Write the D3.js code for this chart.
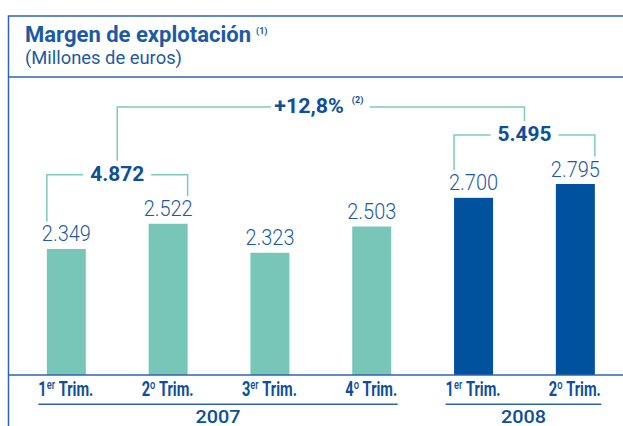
<!DOCTYPE html>
<html>
<head>
<meta charset="utf-8">
<script src="https://cdn.jsdelivr.net/npm/d3@7"></script>
<style>
  body { margin: 0; background: #fff; }
  svg { display: block; font-family: Roboto, "Open Sans", sans-serif; }
</style>
</head>
<body>
<div id="chart"></div>
<script>
// values
var quarterNum = ["1", "2", "3", "4", "1", "2"];
var quarterSup = ["er", "o", "er", "o", "er", "o"];
var years = ["2007", "2007", "2007", "2007", "2008", "2008"];
var values = [2349, 2522, 2323, 2503, 2700, 2795];
var yearLabels = ["2007", "2008"];
var sumLabels = ["4.872", "5.495"];
var sumGroups = [[0, 1], [4, 5]];
var growthLabel = "+12,8%";

var width = 623, height = 426;
var baseY = 375;

var teal = "#77c6b8", navy = "#00529f", lineTeal = "#7dcbbb";
var textBlue = "#1c5aa3", boldBlue = "#0d4f99", frameBlue = "#2e65ad";

var es = d3.formatLocale({decimal: ",", thousands: ".", grouping: [3], currency: ["", "€"]});
var fmt = es.format(",d");

var svg = d3.select("#chart").append("svg")
    .attr("width", width)
    .attr("height", height);

// frame
svg.append("path")
    .attr("d", `M${width},16 H8.5 V${height}`)
    .attr("fill", "none")
    .attr("stroke", frameBlue)
    .attr("stroke-width", 1.5);
svg.append("line")
    .attr("x1", 8.5).attr("x2", width)
    .attr("y1", 77).attr("y2", 77)
    .attr("stroke", frameBlue)
    .attr("stroke-width", 1.5);

// titles
svg.append("text")
    .attr("x", 25).attr("y", 41.5)
    .attr("fill", textBlue)
    .attr("font-size", 22).attr("font-weight", 700)
    .attr("textLength", 226).attr("lengthAdjust", "spacingAndGlyphs")
    .text("Margen de explotación");
svg.append("text")
    .attr("x", 256).attr("y", 34)
    .attr("fill", textBlue)
    .attr("font-size", 9).attr("font-weight", 700)
    .text("(1)");
svg.append("text")
    .attr("x", 25).attr("y", 63.5)
    .attr("fill", textBlue)
    .attr("font-size", 19)
    .attr("textLength", 157).attr("lengthAdjust", "spacingAndGlyphs")
    .text("(Millones de euros)");

// scales
var idx = d3.range(values.length);
var xScale = d3.scaleBand()
    .domain(idx)
    .range([16.3, 625.4])
    .paddingInner(0.617)
    .paddingOuter(0.3);

var yScale = d3.scaleLinear()
    .domain([1484, 2795])
    .range([baseY, 184]);

var cx = i => xScale(i) + xScale.bandwidth() / 2;

// bars
svg.selectAll(".bar")
    .data(values)
    .enter()
    .append("rect")
    .attr("class", "bar")
    .attr("x", (d, i) => xScale(i))
    .attr("y", d => yScale(d))
    .attr("width", xScale.bandwidth())
    .attr("height", d => baseY - yScale(d))
    .attr("fill", (d, i) => years[i] === "2007" ? teal : navy);

// value labels
svg.selectAll(".val")
    .data(values)
    .enter()
    .append("text")
    .attr("class", "val")
    .attr("x", (d, i) => cx(i))
    .attr("y", d => yScale(d) - 7.5)
    .attr("text-anchor", "middle")
    .attr("fill", textBlue)
    .attr("font-size", 22).attr("font-weight", 300)
    .attr("textLength", 49).attr("lengthAdjust", "spacingAndGlyphs")
    .text(d => fmt(d));

// baseline
svg.append("line")
    .attr("x1", 8.5).attr("x2", width)
    .attr("y1", baseY).attr("y2", baseY)
    .attr("stroke", frameBlue)
    .attr("stroke-width", 1.5);

// brackets for the half-year sums
var bracketInfo = sumGroups.map(function(g, k) {
  var a = g[0], b = g[1];
  var x1 = xScale(a), x2 = xScale(b) + xScale.bandwidth();
  var hy = yScale(Math.max(values[a], values[b])) - 49;
  var mid = (x1 + x2) / 2;
  var path = `M${x1},${yScale(values[a]) - 27.5} V${hy} H${mid - 34}` +
             ` M${mid + 34},${hy} H${x2} V${yScale(values[b]) - 27.5}`;
  svg.append("path")
      .attr("d", path)
      .attr("fill", "none")
      .attr("stroke", lineTeal)
      .attr("stroke-width", 1.5);
  svg.append("text")
      .attr("x", mid).attr("y", hy + 6)
      .attr("text-anchor", "middle")
      .attr("fill", boldBlue)
      .attr("font-size", 20).attr("font-weight", 700)
      .attr("textLength", 54).attr("lengthAdjust", "spacingAndGlyphs")
      .text(sumLabels[k]);
  return {mid: mid, hy: hy};
});

// growth bracket joining the two sums
var b1 = bracketInfo[0], b2 = bracketInfo[1];
var gy = b2.hy - 28;
var gmid = (b1.mid + b2.mid) / 2;
svg.append("path")
    .attr("d", `M${b1.mid},${b1.hy - 14} V${gy} H${gmid - 50} M${gmid + 49},${gy} H${b2.mid} V${b2.hy - 14}`)
    .attr("fill", "none")
    .attr("stroke", lineTeal)
    .attr("stroke-width", 1.5);
svg.append("text")
    .attr("x", gmid - 46.5).attr("y", gy + 6)
    .attr("fill", boldBlue)
    .attr("font-size", 20).attr("font-weight", 700)
    .attr("textLength", 69.5).attr("lengthAdjust", "spacingAndGlyphs")
    .text(growthLabel);
svg.append("text")
    .attr("x", gmid + 31).attr("y", gy - 4.5)
    .attr("fill", boldBlue)
    .attr("font-size", 9).attr("font-weight", 700)
    .text("(2)");

// category labels with superscripts
var cats = svg.selectAll(".cat")
    .data(idx)
    .enter()
    .append("g")
    .attr("class", "cat");

var catText = cats.append("text")
    .attr("fill", boldBlue)
    .attr("font-weight", 700)
    .attr("font-size", 19.5);
catText.append("tspan").text(i => quarterNum[i]);
catText.append("tspan")
    .attr("font-size", 12.5).attr("font-weight", 500)
    .attr("dy", -6.5)
    .text(i => quarterSup[i]);
catText.append("tspan")
    .attr("dy", 6.5)
    .text("\u00a0Trim.");

// condense to match the narrow face of the original
var w0 = catText.node().getComputedTextLength();
var sx = 55 / w0;
cats.attr("transform", function(i) {
  var w = this.querySelector("text").getComputedTextLength() * sx;
  return `translate(${cx(i) - w / 2 - 0.5},395.5) scale(${sx},1)`;
});

// year groups
yearLabels.forEach(function(yr) {
  var members = idx.filter(i => years[i] === yr);
  var xa = cx(members[0]) - 28, xb = cx(members[members.length - 1]) + 26;
  svg.append("line")
      .attr("x1", xa).attr("x2", xb)
      .attr("y1", 404.3).attr("y2", 404.3)
      .attr("stroke", frameBlue)
      .attr("stroke-width", 1.5);
  svg.append("text")
      .attr("x", (xa + xb) / 2).attr("y", 422.5)
      .attr("text-anchor", "middle")
      .attr("fill", boldBlue)
      .attr("font-size", 19).attr("font-weight", 500)
      .attr("textLength", 45).attr("lengthAdjust", "spacingAndGlyphs")
      .text(yr);
});
</script>
</body>
</html>
